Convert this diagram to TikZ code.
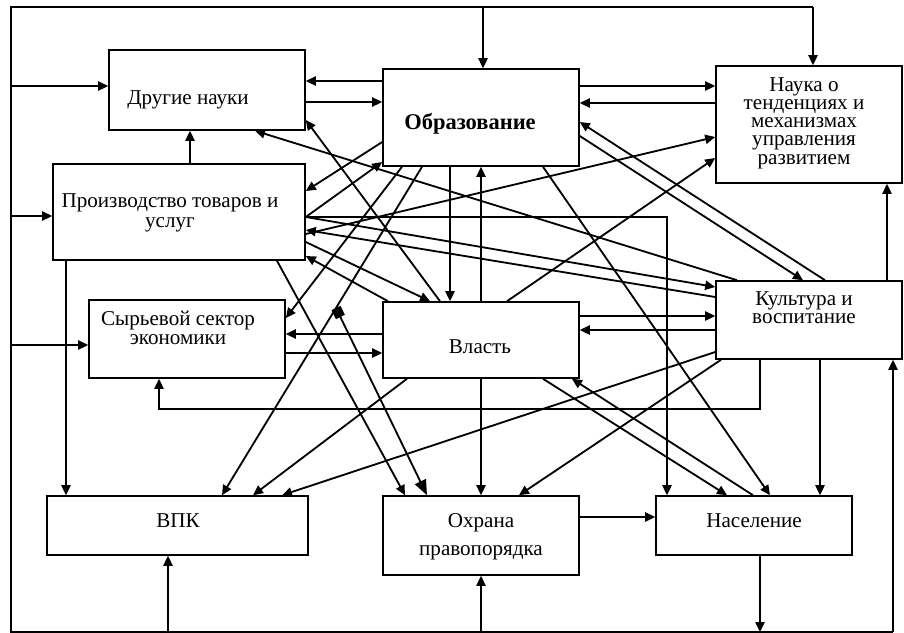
\documentclass[tikz,border=0pt]{standalone}
\usepackage{fontspec}
\setmainfont{Liberation Serif}
\usetikzlibrary{arrows.meta}

\begin{document}
\begin{tikzpicture}[x=0.025cm,y=-0.025cm,
		>={Triangle[length=2.5mm,width=2.3mm]},
		box/.style={rectangle,draw,line width=1.1pt,inner sep=0pt},
		lbl/.style={align=center,inner sep=0pt,font=\fontsize{15}{13}\selectfont},
		link/.style={->,line width=1.3pt},
		bus/.style={line width=1pt}]
		\useasboundingbox (0,0) rectangle (904,633);

		% blocks
		\node (drugie)[box,minimum width=4.9cm,minimum height=2cm] at (207,90) {};
		\node (obr)[box,minimum width=4.9cm,minimum height=2.425cm] at (481,117.5) {};
		\node (nauka)[box,minimum width=4.65cm,minimum height=2.925cm] at (809,124.5) {};
		\node (proizv)[box,minimum width=6.3cm,minimum height=2.4cm] at (179,212) {};
		\node (syr)[box,minimum width=4.9cm,minimum height=1.95cm] at (187,339) {};
		\node (vlast)[box,minimum width=4.9cm,minimum height=1.9cm] at (481,340) {};
		\node (kult)[box,minimum width=4.65cm,minimum height=1.95cm] at (809,320) {};
		\node (vpk)[box,minimum width=6.525cm,minimum height=1.475cm] at (177.5,525.5) {};
		\node (ohrana)[box,minimum width=4.9cm,minimum height=1.975cm] at (481,535.5) {};
		\node (nasel)[box,minimum width=4.9cm,minimum height=1.475cm] at (754,525.5) {};

		\node (drugie text)[lbl] at (188,100) {Другие науки};
		\node (obr text)[lbl,font=\fontsize{16}{18}\selectfont\bfseries] at (470,124) {Образование};
		\node (nauka text)[lbl] at (804,123) {Наука о\\тенденциях и\\механизмах\\управления\\развитием};
		\node (proizv text)[lbl,font=\fontsize{15}{14}\selectfont] at (170,213) {Производство товаров и\\услуг};
		\node (syr text)[lbl] at (178,328) {Сырьевой сектор\\экономики};
		\node (vlast text)[lbl] at (480,347) {Власть};
		\node (kult text)[lbl] at (804,308) {Культура и\\воспитание};
		\node (vpk text)[lbl] at (178,521) {ВПК};
		\node (ohrana text)[lbl,font=\fontsize{15}{20}\selectfont] at (481,537) {Охрана\\правопорядка};
		\node (nasel text)[lbl] at (754,521) {Население};

		% outer bus
		\coordinate (ftl) at (11,7);
		\coordinate (fbl) at (11,632);
		\draw[bus] (ftl -| 813,0) -- (ftl) -- (fbl) -- (fbl -| 893,0);
		\draw[link] (ftl -| 483,0) -- (obr.north -| 483,0);
		\draw[link] (ftl -| 813,0) -- (nauka.north -| 813,0);
		\foreach \y/\to in {86/drugie, 216/proizv, 345/syr}{
			\draw[link] (ftl |- 0,\y) -- (\to.west |- 0,\y);
		}
		\draw[link] (fbl -| 168,0) -- (vpk.south -| 168,0);
		\draw[link] (fbl -| 481,0) -- (ohrana.south);
		\draw[link] (nasel.south -| 760,0) -- (fbl -| 760,0);
		\draw[link] (fbl -| 893,0) -- (kult.south -| 893,0);

		% horizontal pairs
		\draw[link] (obr.west |- 0,81) -- (drugie.east |- 0,81);
		\draw[link] (drugie.east |- 0,102) -- (obr.west |- 0,102);
		\draw[link] (obr.east |- 0,86) -- (nauka.west |- 0,86);
		\draw[link] (nauka.west |- 0,103) -- (obr.east |- 0,103);
		\draw[link] (vlast.east |- 0,316) -- (kult.west |- 0,316);
		\draw[link] (kult.west |- 0,330) -- (vlast.east |- 0,330);
		\draw[link] (vlast.west |- 0,334) -- (syr.east |- 0,334);
		\draw[link] (syr.east |- 0,353) -- (vlast.west |- 0,353);
		\draw[link] (ohrana.east |- 0,517) -- (nasel.west |- 0,517);

		% vertical ones
		\draw[link] (proizv.north -| 190,0) -- (drugie.south -| 190,0);
		\draw[link] (obr.south -| 450,0) -- (vlast.north -| 450,0);
		\draw[link] (vlast.north -| 481,0) -- (obr.south -| 481,0);
		\draw[link] (vlast.south) -- (ohrana.north);
		\draw[link] (kult.south -| 820,0) -- (nasel.north -| 820,0);
		\draw[link] (kult.north -| 887,0) -- (nauka.south -| 887,0);
		\draw[link] (proizv.south -| 66,0) -- (vpk.north -| 66,0);

		% from production
		\draw[link] (obr.west |- 0,142) -- (proizv.east |- 0,191);
		\draw[link] (proizv.east |- 0,217) -- (obr.west |- 0,162);
		\draw[link] (proizv.east |- 0,217) -| (nasel.north -| 667,0);
		\draw[link] (proizv.east |- 0,217) -- (kult.west |- 0,287);
		\draw[link] (kult.west |- 0,297) -- (proizv.east |- 0,230);
		\draw[link] (proizv.east |- 0,234) -- (nauka.west |- 0,137);
		\draw[link] (proizv.east |- 0,242) -- (vlast.north -| 430,0);
		\draw[link] (vlast.north -| 388,0) -- (proizv.east |- 0,256);
		\draw[link] (proizv.south -| 277,0) -- (ohrana.north -| 405,0);

		% diagonals
		\draw[link] (vlast.north -| 440,0) -- (drugie.east |- 0,120);
		\draw[link] (kult.north -| 737,0) -- (drugie.south -| 255,0);
		\draw[link] (kult.north -| 825,0) -- (obr.east |- 0,122);
		\draw[link] (obr.east |- 0,136) -- (kult.north -| 803,0);
		\draw[link] (obr.south -| 402,0) -- (syr.east |- 0,318);
		\draw[link] (obr.south -| 422,0) -- coordinate[pos=0.43] (br) (vpk.north -| 222,0);
		\draw[line width=1.3pt,{Square[length=2.5mm,width=2.5mm]}-{Triangle[length=3.8mm,width=3mm]}] (br) -- (ohrana.north -| 427,0);
		\draw[link] (vlast.north -| 507,0) -- (nauka.west |- 0,158);
		\draw[link] (obr.south -| 543,0) -- (nasel.north -| 770,0);
		\draw[link] (kult.south -| 760,0) |- (159,409) -- (syr.south -| 159,0);
		\draw[link] (vlast.south -| 407,0) -- (vpk.north -| 253,0);
		\draw[link] (kult.west |- 0,352) -- (vpk.north -| 282,0);
		\draw[link] (kult.south -| 721,0) -- (ohrana.north -| 519,0);
		\draw[link] (vlast.south -| 543,0) -- (nasel.north -| 727,0);
		\draw[link] (nasel.north -| 753,0) -- (vlast.south -| 572,0);
	\end{tikzpicture}
\end{document}
